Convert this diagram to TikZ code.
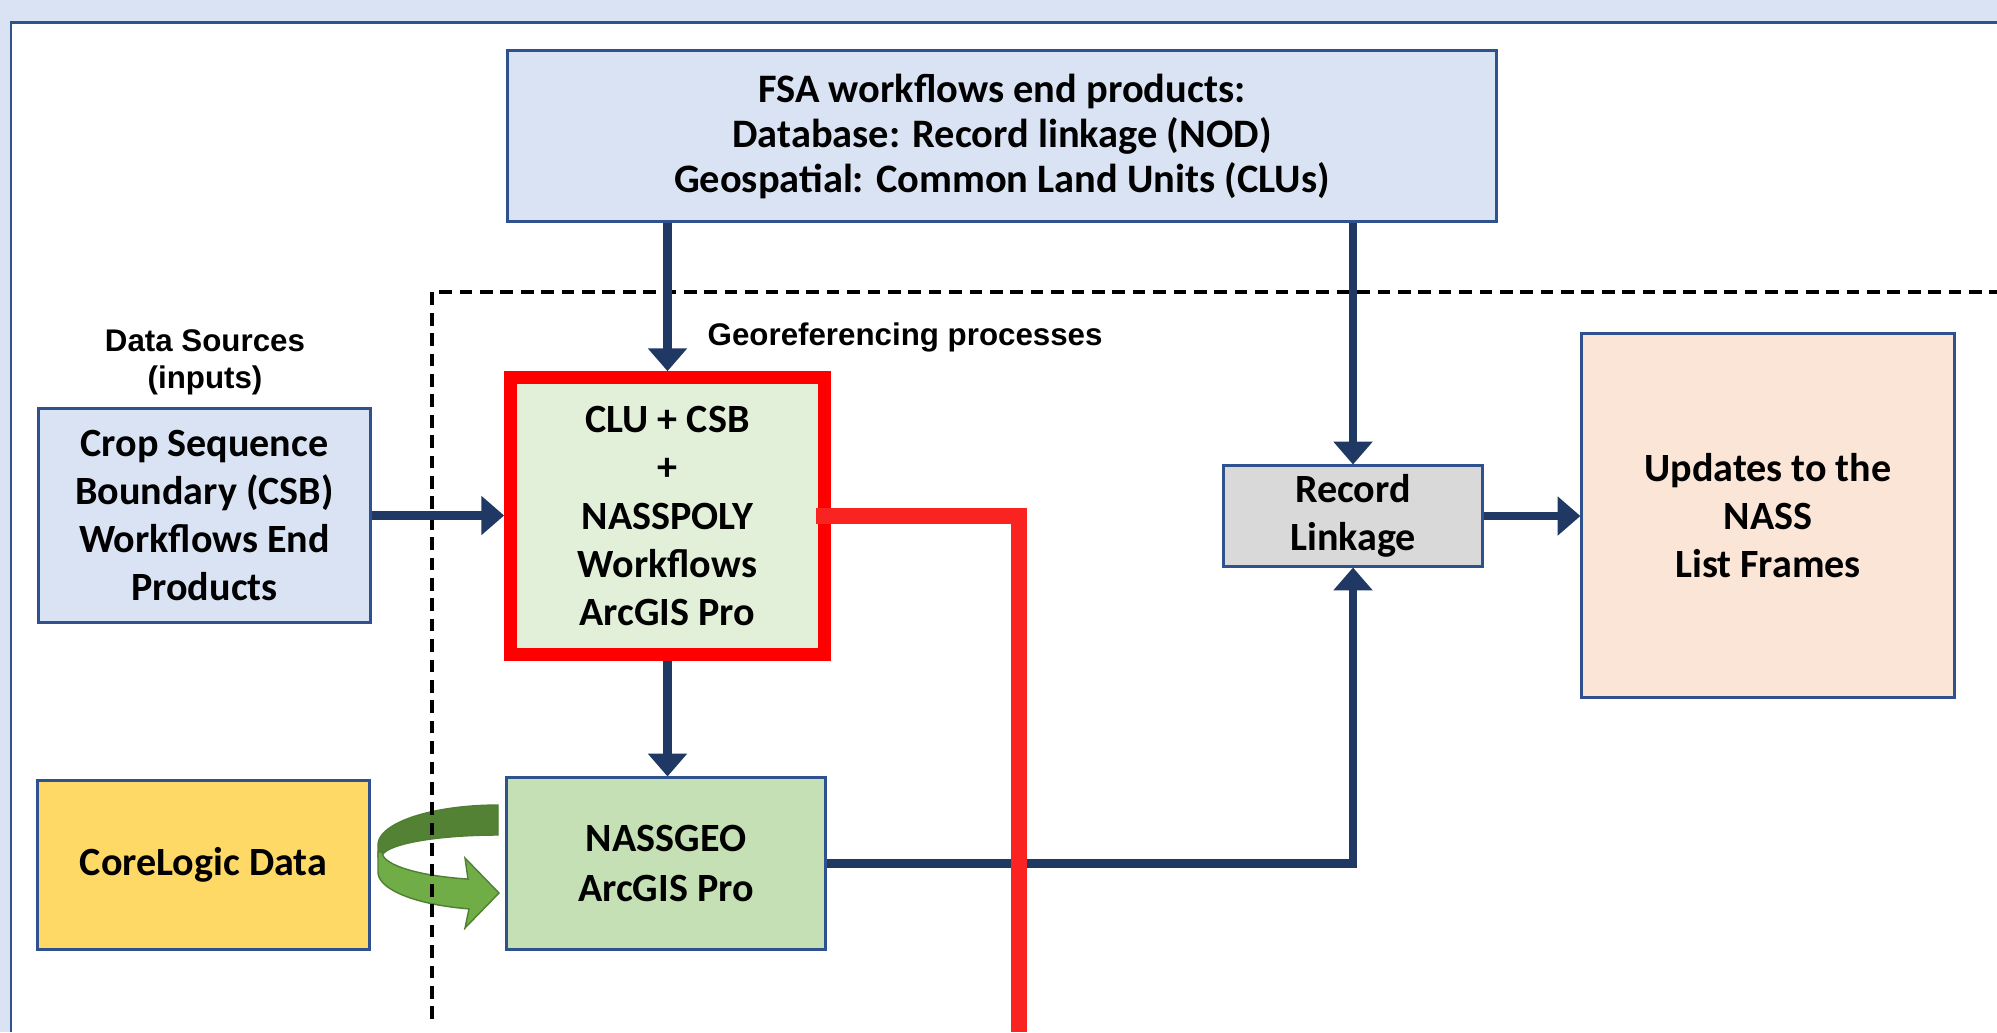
\documentclass[tikz,border=0pt]{standalone}
\usepackage{fontspec}
\newfontfamily\carl{Carlito}
\newfontfamily\arialf{Liberation Sans}
\usetikzlibrary{arrows.meta}
\definecolor{bgblue}{HTML}{DAE3F3}
\definecolor{navy}{HTML}{203864}
\definecolor{boxedge}{HTML}{2F528F}
\definecolor{fsafill}{HTML}{DAE3F3}
\definecolor{clufill}{HTML}{E2F0D9}
\definecolor{geofill}{HTML}{C5E0B4}
\definecolor{corefill}{HTML}{FFD966}
\definecolor{recfill}{HTML}{D9D9D9}
\definecolor{updfill}{HTML}{FBE5D6}
\definecolor{redline}{HTML}{F92421}
\definecolor{gdark}{HTML}{548235}
\definecolor{glight}{HTML}{70AD47}
\definecolor{gedge}{HTML}{507E32}
\newcommand\boxfont{\carl\bfseries\fontsize{11.4}{13.7}\selectfont}
\newcommand\fsafont{\carl\bfseries\fontsize{11.5}{12.8}\selectfont}
\newcommand\geofont{\carl\bfseries\fontsize{11.4}{14.2}\selectfont}
\newcommand\labfont{\arialf\bfseries\fontsize{8.9}{10.5}\selectfont}
\begin{document}
\begin{tikzpicture}[x=0.01cm, y=-0.01cm,
  box/.style={draw=boxedge, line width=0.85pt, align=center, font=\boxfont, inner sep=0pt},
  conn/.style={navy, line width=2.3pt, -{Triangle[length=6.5pt,width=10.8pt]}},
  redpath/.style={redline, line width=4.55pt},
  dashbox/.style={black, line width=1.2pt, dash pattern=on 3.6pt off 2.2pt},
  lab/.style={font=\labfont, align=center, inner sep=0pt}]
\useasboundingbox (0,0) rectangle (1997,1032);
\fill[bgblue] (0,0) rectangle (1997,1032);
\fill[white] (11,22) rectangle (1997,1032);
\draw[boxedge, line width=0.85pt] (11,1032) -- (11,22) -- (1997,22);

% green curved arrow
\filldraw[fill=gdark, draw=gedge, line width=0.4pt]
  plot[domain=270:180, samples=40] ({498+120*cos(\x)},{845+40*sin(\x)})
  -- (378,857)
  -- plot[domain=180:270, samples=40] ({498+116*cos(\x)},{857+22*sin(\x)}) -- cycle;
\filldraw[fill=glight, draw=gedge, line width=0.4pt]
  (382,852) -- (378,852) -- (378,872)
  -- plot[domain=180:104, samples=40] ({498+120*cos(\x)},{872+38*sin(\x)})
  -- (465,928) -- (499,893) -- (465,858)
  -- plot[domain=105:180, samples=40] ({498+116*cos(\x)},{852+28*sin(\x)}) -- cycle;

% dashed region
\draw[dashbox] (432,1019) -- (432,292) -- (1997,292);

% labels
\node[lab] (ds) at (205,362) {Data Sources\\(inputs)};
\node[lab, anchor=base west] (geolab) at (707,345) {Georeferencing processes};

% boxes
\node[box, fill=fsafill, font=\fsafont, minimum width=9.88cm, minimum height=1.71cm] (fsa) at (1002,136)
  {FSA workflows end products:\\Database: Record linkage (NOD)\\Geospatial: Common Land Units (CLUs)};
\node[box, fill=fsafill, minimum width=3.31cm, minimum height=2.13cm] (csb) at (204.5,515.5)
  {Crop Sequence\\Boundary (CSB)\\Workflows End\\Products};
\node[box, draw=red, line width=3.56pt, fill=clufill, minimum width=3.14cm, minimum height=2.77cm] (clu) at (667.5,516)
  {CLU + CSB\\+\\NASSPOLY\\Workflows\\ArcGIS Pro};
\node[box, fill=geofill, font=\geofont, minimum width=3.18cm, minimum height=1.71cm] (geo) at (666,863.5)
  {NASSGEO\\ArcGIS Pro};
\node[box, fill=corefill, minimum width=3.31cm, minimum height=1.68cm] (core) at (203.5,865)
  {CoreLogic Data};
\node[box, fill=recfill, minimum width=2.58cm, minimum height=1.00cm] (rec) at (1353,516)
  {Record\\Linkage};
\node[box, fill=updfill, minimum width=3.72cm, minimum height=3.63cm] (upd) at (1768,515.5)
  {Updates to the\\NASS\\List Frames};

% connectors
\draw[conn] (fsa.south -| clu.north) -- (clu.north);
\draw[conn] (fsa.south -| rec.north) -- (rec.north);
\draw[conn] (csb.east) -- (csb.east -| clu.west);
\draw[conn] (clu.south) -- (clu.south |- geo.north);
\draw[conn] (geo.east) -| (rec.south);
\draw[conn] (rec.east) -- (rec.east -| upd.west);

% red path
\coordinate (redend) at (1019,1032);
\draw[redpath] ([xshift=-0.15cm]clu.east) -| (redend);
\end{tikzpicture}
\end{document}
